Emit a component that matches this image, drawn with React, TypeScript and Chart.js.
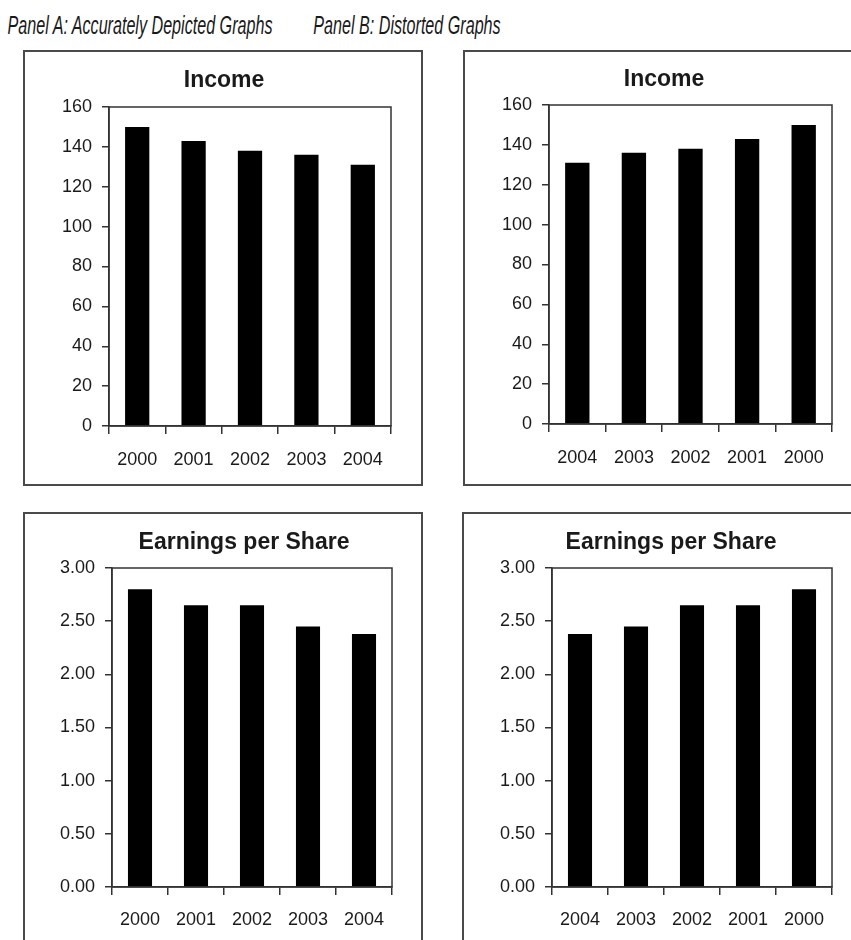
import React, { useEffect, useRef } from "react";
import { Chart, registerables } from "chart.js";

Chart.register(...registerables);

// ---- data ----
const years = ["2000", "2001", "2002", "2003", "2004"];
const incomeValues = [150, 143, 138, 136, 131];
const epsValues = [2.8, 2.65, 2.65, 2.45, 2.38];
const incomeTickValues = [0, 20, 40, 60, 80, 100, 120, 140, 160];
const epsTickValues = [0, 0.5, 1.0, 1.5, 2.0, 2.5, 3.0];
const yearsReversed = [...years].reverse();
const incomeReversed = [...incomeValues].reverse();
const epsReversed = [...epsValues].reverse();

const panelATitle = "Panel A: Accurately Depicted Graphs";
const panelBTitle = "Panel B: Distorted Graphs";

const FONT = "'Liberation Sans', Arial, Helvetica, sans-serif";
const INK = "#1a1a1a";
const AXIS = "#333";

type Box = { left: number; top: number; width: number; height: number };
type Plot = { left: number; right: number; top: number; bottom: number };

type PanelProps = {
  labels: string[];
  values: number[];
  tickValues: number[];
  decimals: number;
  title: string;
  titleX: number;
  titleY: number;
  plot: Plot;
  labelPad: number;
  box: Box;
};

const BORDER = 2;

function Panel(props: PanelProps) {
  const ref = useRef<HTMLCanvasElement | null>(null);
  const innerW = props.box.width - 2 * BORDER;
  const innerH = props.box.height - 2 * BORDER;

  useEffect(() => {
    const canvas = ref.current;
    if (!canvas) return;
    const { plot, tickValues, decimals } = props;
    const titlePlugin = {
      id: "customTitle",
      afterDraw(chart: any) {
        const ctx = chart.ctx;
        ctx.save();
        const a = chart.chartArea;
        ctx.strokeStyle = AXIS;
        ctx.lineWidth = 1.5;
        ctx.strokeRect(a.left, a.top, a.right - a.left, a.bottom - a.top);
        ctx.fillStyle = INK;
        ctx.font = `bold 23px ${FONT}`;
        ctx.textAlign = "center";
        ctx.textBaseline = "middle";
        ctx.fillText(props.title, props.titleX, props.titleY);
        ctx.restore();
      },
    };
    const chart = new Chart(canvas, {
      type: "bar",
      data: {
        labels: props.labels,
        datasets: [
          {
            data: props.values,
            backgroundColor: "#000",
            borderWidth: 0,
            categoryPercentage: 1,
            barPercentage: 0.43,
          },
        ],
      },
      options: {
        responsive: false,
        animation: false,
        devicePixelRatio: 1,
        layout: {
          padding: { top: plot.top, left: 0, right: innerW - plot.right, bottom: 0 },
        },
        plugins: {
          legend: { display: false },
          title: { display: false },
          tooltip: { enabled: false },
        },
        scales: {
          x: {
            type: "category",
            offset: true,
            grid: {
              display: true,
              offset: true,
              drawOnChartArea: false,
              drawTicks: true,
              tickLength: 8,
              color: AXIS,
              lineWidth: 1.5,
            },
            border: { display: true, color: AXIS, width: 1.5 },
            ticks: {
              color: INK,
              font: { family: FONT, size: 18 },
              padding: props.labelPad,
              maxRotation: 0,
              autoSkip: false,
            },
            afterFit(scale: any) {
              scale.height = innerH - plot.bottom;
            },
          },
          y: {
            type: "linear",
            min: tickValues[0],
            max: tickValues[tickValues.length - 1],
            grid: {
              display: true,
              drawOnChartArea: false,
              drawTicks: true,
              tickLength: 7,
              color: AXIS,
              lineWidth: 1.5,
            },
            border: { display: true, color: AXIS, width: 1.5 },
            ticks: {
              color: INK,
              font: { family: FONT, size: 18 },
              padding: 10,
              callback: (v: any) => Number(v).toFixed(decimals),
            },
            afterBuildTicks(scale: any) {
              scale.ticks = tickValues.map((v) => ({ value: v }));
            },
            afterFit(scale: any) {
              scale.width = plot.left;
            },
          },
        },
      },
      plugins: [titlePlugin],
    });
    return () => chart.destroy();
  }, []);

  return (
    <div
      style={{
        position: "absolute",
        left: props.box.left,
        top: props.box.top,
        width: props.box.width,
        height: props.box.height,
        boxSizing: "border-box",
        border: `${BORDER}px solid #4a4a4a`,
        background: "#fff",
      }}
    >
      <canvas ref={ref} width={innerW} height={innerH} style={{ display: "block" }} />
    </div>
  );
}

function Header({ text, x, y }: { text: string; x: number; y: number }) {
  return (
    <div
      style={{
        position: "absolute",
        left: x,
        top: y,
        transform: "translate(-50%, -50%) scaleX(0.62)",
        fontFamily: FONT,
        fontStyle: "italic",
        fontSize: 26,
        lineHeight: 1,
        whiteSpace: "nowrap",
        color: INK,
      }}
    >
      {text}
    </div>
  );
}

export default function App() {
  return (
    <div
      style={{
        position: "absolute",
        left: 0,
        top: 0,
        width: 851,
        height: 940,
        overflow: "hidden",
        background: "#fff",
      }}
    >
      <Header text={panelATitle} x={140} y={25} />
      <Header text={panelBTitle} x={407} y={25} />
      <Panel
        labels={years}
        values={incomeValues}
        tickValues={incomeTickValues}
        decimals={0}
        title="Income"
        titleX={199}
        titleY={29}
        plot={{ left: 84, right: 366, top: 55, bottom: 374 }}
        labelPad={15}
        box={{ left: 23, top: 50, width: 400, height: 436 }}
      />
      <Panel
        labels={yearsReversed}
        values={incomeReversed}
        tickValues={incomeTickValues}
        decimals={0}
        title="Income"
        titleX={199}
        titleY={28}
        plot={{ left: 84, right: 367, top: 53, bottom: 372 }}
        labelPad={15}
        box={{ left: 463, top: 50, width: 400, height: 436 }}
      />
      <Panel
        labels={years}
        values={epsValues}
        tickValues={epsTickValues}
        decimals={2}
        title="Earnings per Share"
        titleX={219}
        titleY={29}
        plot={{ left: 87, right: 367, top: 54, bottom: 373 }}
        labelPad={14}
        box={{ left: 23, top: 512, width: 400, height: 440 }}
      />
      <Panel
        labels={yearsReversed}
        values={epsReversed}
        tickValues={epsTickValues}
        decimals={2}
        title="Earnings per Share"
        titleX={207}
        titleY={29}
        plot={{ left: 88, right: 368, top: 54, bottom: 373 }}
        labelPad={14}
        box={{ left: 462, top: 512, width: 400, height: 440 }}
      />
    </div>
  );
}
